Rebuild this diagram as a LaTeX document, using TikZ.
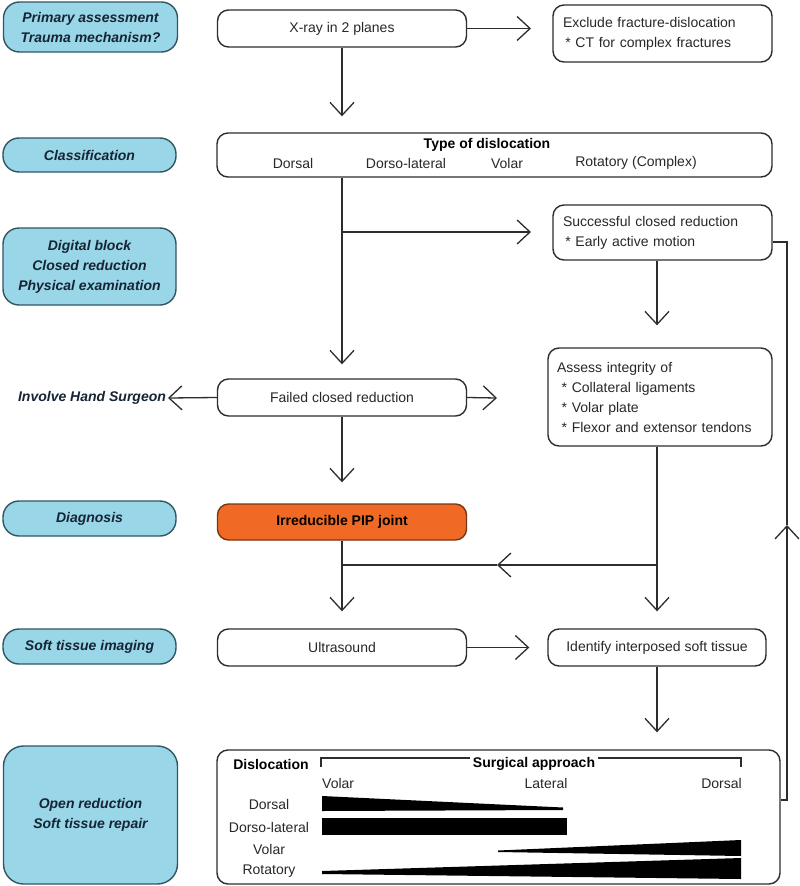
\documentclass[tikz,border=0pt]{standalone}
\usepackage{fontspec}
\setmainfont{Liberation Sans}
\usetikzlibrary{arrows.meta}
\definecolor{lblue}{RGB}{152,214,232}
\definecolor{lbluedraw}{RGB}{50,85,98}
\definecolor{lbltext}{RGB}{22,36,52}
\definecolor{orng}{RGB}{240,106,37}
\definecolor{orngdraw}{RGB}{120,55,20}
\definecolor{linec}{RGB}{45,45,45}
\definecolor{txtc}{RGB}{40,40,40}
\begin{document}
\begin{tikzpicture}[x=1pt,y=-1pt,
  mbox/.style={draw=linec, line width=1.4pt, rounded corners=11pt, fill=white,
    font=\fontsize{14}{20}\selectfont, text=txtc, inner sep=0pt, minimum width=249pt, minimum height=37pt},
  tbox/.style={mbox, align=left, inner xsep=10pt, anchor=center},
  lbl/.style={draw=lbluedraw, line width=1.4pt, rounded corners=16pt, fill=lblue,
    font=\fontsize{14}{20}\selectfont\bfseries\itshape, text=lbltext, align=center, inner sep=0pt,
    minimum width=174pt},
  conn/.style={draw=linec, line width=1.3pt},
  arr/.style={conn, -{Straight Barb[length=13pt,width=24pt,line width=1.3pt]}},
  rtxt/.style={font=\fontsize{14}{17}\selectfont, text=txtc, inner sep=0pt},
  btxt/.style={font=\fontsize{14}{17}\selectfont\bfseries, text=black, inner sep=0pt}
]
\useasboundingbox (0,0) rectangle (800,886);
\fill[white] (0,0) rectangle (800,886);

% left labels
\node[lbl, minimum height=50pt] (prim) at (90.5,27) {Primary assessment\\Trauma mechanism?};
\node[lbl, minimum height=34pt, minimum width=173pt] (cls) at (89.5,155) {Classification};
\node[lbl, minimum height=77pt, minimum width=173pt] (dig) at (89.5,266.5) {Digital block\\Closed reduction\\Physical examination};
\node[font=\fontsize{14}{17}\selectfont\bfseries\itshape, text=lbltext, inner sep=0pt] (inv) at (92,398) {Involve Hand Surgeon};
\node[lbl, minimum height=35pt, minimum width=173pt] (dia) at (89.5,518.5) {Diagnosis};
\node[lbl, minimum height=35pt, minimum width=173pt] (sti) at (89.5,646.5) {Soft tissue imaging};
\node[lbl, minimum height=138pt, rounded corners=20pt] (opr) at (90.5,815) {Open reduction\\Soft tissue repair};

% middle column
\node[mbox] (xray) at (342,28.5) {X-ray in 2 planes};
\node[tbox, text width=199pt, minimum width=219pt, minimum height=57pt] (excl) at (662.5,33.5)
  {Exclude fracture-dislocation\\\,* CT for complex fractures};
\node[mbox, minimum width=555pt, minimum height=44pt] (type) at (494.5,155) {};
\node[btxt] (typet) at (487,144.5) {Type of dislocation};
\node[rtxt] (t1) at (293,163) {Dorsal};
\node[rtxt] (t2) at (406,163) {Dorso-lateral};
\node[rtxt] (t3) at (507,163) {Volar};
\node[rtxt] (t4) at (636,163) {Rotatory (Complex)};
\node[tbox, text width=199pt, minimum width=219pt, minimum height=55pt] (succ) at (662.5,232.5)
  {Successful closed reduction\\\,* Early active motion};
\node[tbox, inner xsep=9pt, text width=206pt, minimum width=224pt, minimum height=98pt] (ass) at (660,397)
  {Assess integrity of\\\,\,* Collateral ligaments\\\,\,* Volar plate\\\,\,* Flexor and extensor tendons};
\node[mbox] (fail) at (342,397.5) {Failed closed reduction};
\node[mbox, fill=orng, draw=orngdraw, font=\fontsize{14}{20}\selectfont\bfseries, text=black, minimum height=36pt] (irr) at (342,522) {Irreducible PIP joint};
\node[mbox] (us) at (342,647.5) {Ultrasound};
\node[mbox, minimum width=218pt] (idt) at (657,647.5) {Identify interposed soft tissue};
\node[mbox, minimum width=563pt, minimum height=134pt] (bot) at (498.5,817) {};

% bottom box contents
\node[btxt] (disl) at (271,764) {Dislocation};
\node[btxt, fill=white, inner xsep=3pt] (surg) at (534,764) {Surgical approach};
\coordinate (brL) at (321,767);
\coordinate (brR) at (741,767);
\draw[conn, line width=1.1pt] (brL) -- (321,758) -- (surg.west |- 0,758);
\draw[conn, line width=1.1pt] (surg.east |- 0,758) -- (741,758) -- (brR);
\node[rtxt, anchor=west] (hv) at (322,783) {Volar};
\node[rtxt] (hl) at (546,783) {Lateral};
\node[rtxt, anchor=east] (hd) at (742,783) {Dorsal};
\node[rtxt] (r1) at (269,804) {Dorsal};
\node[rtxt] (r2) at (269,827) {Dorso-lateral};
\node[rtxt] (r3) at (269,849) {Volar};
\node[rtxt] (r4) at (269,871) {Rotatory};
\fill[black] (322,796) -- (563,807.5) -- (563,810) -- (322,811) -- cycle;
\fill[black] (322,818) rectangle (567,835);
\fill[black] (498,850.5) -- (741,840) -- (741,856) -- (498,852) -- cycle;
\fill[black] (322,871) -- (741,858) -- (741,879) -- (322,874) -- cycle;

% connectors
\coordinate (e1) at (531,28);
\draw[arr] (xray.east) -- (xray.east -| e1);
\draw[arr, shorten >=16pt] (xray.south) -- (xray.south |- type.north);
\draw[arr, shorten >=14pt] (xray.south |- type.south) -- (xray.south |- fail.north);
\coordinate (br) at (342,232);
\draw[arr] (br) -- (br -| e1);
\draw[arr, shorten >=22pt] (succ.south -| idt) -- (ass.north -| idt);
\coordinate (il) at (168,398);
\draw[arr] (fail.west) -- (il);
\coordinate (ir) at (497,398);
\draw[arr] (fail.east) -- (ir);
\draw[arr, shorten >=21pt] (fail.south) -- (irr.north);
\draw[arr, shorten >=17pt] (irr.south) -- (us.north);
\draw[arr, shorten >=17pt] (ass.south -| idt) -- (idt.north);
\coordinate (m1) at (657,565);
\coordinate (m2) at (497,565);
\coordinate (m3) at (342,565);
\draw[arr] (m1) -- (m2);
\draw[conn] (m2) -- (m3);
\draw[arr, shorten >=18pt] (us.east) -- (idt.west);
\draw[arr, shorten >=17pt] (idt.south) -- (bot.north -| idt);
\coordinate (rx) at (787,525);
\draw[arr] (bot.east |- 0,800) -| (rx);
\draw[conn] (rx) |- (succ.east |- 0,242);
\end{tikzpicture}
\end{document}
